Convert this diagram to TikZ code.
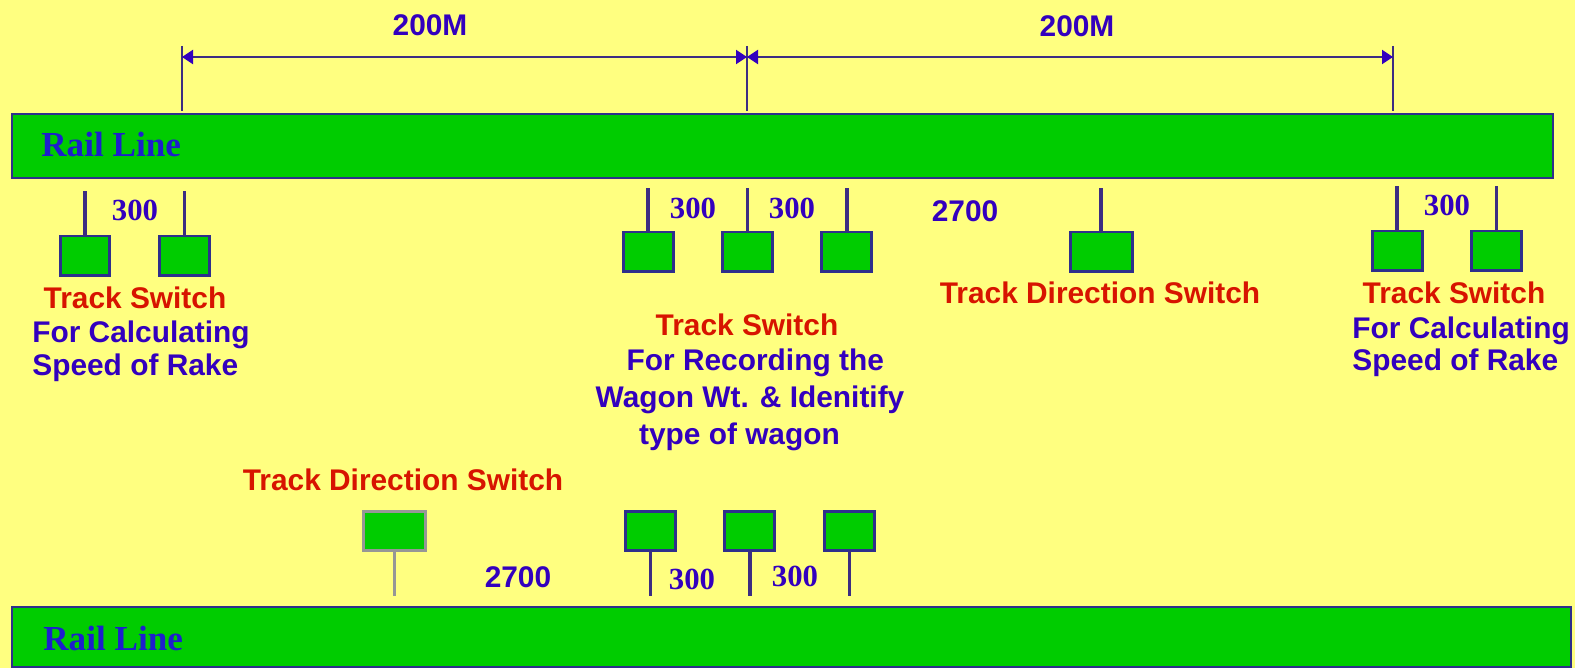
\documentclass[tikz,border=0pt]{standalone}
\usepackage{fontspec}
\setmainfont{Liberation Sans}
\newfontfamily\railfont{Liberation Serif}
\usetikzlibrary{arrows.meta, positioning}
\definecolor{bgyellow}{RGB}{255,255,128}
\definecolor{railgreen}{RGB}{0,204,0}
\definecolor{edgeblue}{RGB}{46,46,140}
\definecolor{stemblue}{RGB}{60,45,130}
\definecolor{txtblue}{RGB}{51,0,190}
\definecolor{txtred}{RGB}{215,20,0}
\definecolor{railblue}{RGB}{30,30,205}
\definecolor{offgray}{RGB}{150,150,150}
\tikzset{
  rail/.style={rectangle, draw=edgeblue, fill=railgreen, line width=0.05cm, outer sep=0pt, inner sep=0pt},
  sw/.style={rectangle, draw=edgeblue, fill=railgreen, line width=0.06cm, outer sep=0pt, inner sep=0pt,
             minimum width=1.0cm, minimum height=0.8cm},
  dirsw/.style={sw, minimum width=1.24cm},
  stem/.style={draw=stemblue, line width=0.07cm},
  tick/.style={draw=stemblue, line width=0.04cm},
  dim/.style={draw=stemblue, line width=0.04cm, {Triangle[length=0.22cm,width=0.28cm,color=txtblue]}-{Triangle[length=0.22cm,width=0.28cm,color=txtblue]}},
  lbl/.style={inner sep=0pt, text=txtblue, font=\fontsize{17}{19}\selectfont\bfseries},
  title/.style={inner sep=0pt, text=txtred, font=\fontsize{17}{19}\selectfont\bfseries},
  gap/.style={inner sep=0pt, text=txtblue, font=\railfont\fontsize{17.5}{19}\selectfont\bfseries},
  railname/.style={inner sep=0pt, anchor=west, text=railblue, font=\railfont\fontsize{20}{22}\selectfont\bfseries},
}
\begin{document}
\begin{tikzpicture}[x=0.02cm, y=-0.02cm, node distance=0.99cm]
  \fill[bgyellow] (0,0) rectangle (1575,668);
  \useasboundingbox (0,0) rectangle (1575,668);

  % rails
  \node[rail, minimum width=30.82cm, minimum height=1.28cm] (rail1) at (782.5,146) {};
  \node[rail, minimum width=31.18cm, minimum height=1.2cm] (rail2) at (791.5,637) {};
  \node[railname] (name1) at (41,144) {Rail Line};
  \node[railname] (name2) at (43,638) {Rail Line};

  % distance marks
  \coordinate (da) at (182,57);
  \coordinate (db) at (747,57);
  \coordinate (dc) at (1393,57);
  \coordinate (ta) at (182,46);
  \coordinate (tb) at (747,46);
  \coordinate (tc) at (1393,46);
  \coordinate (ba) at (182,111);
  \coordinate (bb) at (747,111);
  \coordinate (bc) at (1393,111);
  \draw[tick] (ta) -- (ba);
  \draw[tick] (tb) -- (bb);
  \draw[tick] (tc) -- (bc);
  \draw[dim] (da) -- (db);
  \draw[dim] (db) -- (dc);
  \node[lbl] (d1) at (430,25) {200M};
  \node[lbl] (d2) at (1077,26) {200M};

  % upper switches
  \node[sw] (a1) at (85,256) {};
  \node[sw, right=of a1] (a2) {};
  \node[sw] (b1) at (648,252) {};
  \node[sw, right=of b1] (b2) {};
  \node[sw, right=of b2] (b3) {};
  \node[dirsw] (c1) at (1101,252) {};
  \node[sw] (e1) at (1397,251) {};
  \node[sw, right=of e1] (e2) {};

  \coordinate[above=0.9cm of a1] (a1t);
  \coordinate[above=0.9cm of a2] (a2t);
  \coordinate[above=0.88cm of b1] (b1t);
  \coordinate[above=0.88cm of b2] (b2t);
  \coordinate[above=0.88cm of b3] (b3t);
  \coordinate[above=0.88cm of c1] (c1t);
  \coordinate[above=0.9cm of e1] (e1t);
  \coordinate[above=0.9cm of e2] (e2t);
  \draw[stem] (a1t) -- (a1);
  \draw[stem] (a2t) -- (a2);
  \draw[stem] (b1t) -- (b1);
  \draw[stem] (b2t) -- (b2);
  \draw[stem] (b3t) -- (b3);
  \draw[stem] (c1t) -- (c1);
  \draw[stem] (e1t) -- (e1);
  \draw[stem] (e2t) -- (e2);

  \node[gap] (g1) at (135,210) {300};
  \node[gap] (g2) at (693,208) {300};
  \node[gap] (g3) at (792,208) {300};
  \node[gap] (g4) at (1447,205) {300};
  \node[lbl] (g5) at (965,211) {2700};

  % upper texts
  \node[title] (t1) at (135,298) {Track Switch};
  \node[lbl, anchor=north west, align=left, font=\fontsize{17}{18.7}\selectfont\bfseries] (n1) at (32,321) {For Calculating\\Speed of Rake};
  \node[title] (t2) at (747,325) {Track Switch};
  \node[lbl, anchor=north, align=center, font=\fontsize{17}{21}\selectfont\bfseries] (n2) at (750,348.5) {\hspace*{6pt}For Recording the\\Wagon Wt. \& Idenitify\\\hspace*{-12pt}type of wagon};
  \node[title] (t3) at (1100,293) {Track Direction Switch};
  \node[title] (t4) at (1454,293) {Track Switch};
  \node[lbl, anchor=north west, align=left, font=\fontsize{17}{18.2}\selectfont\bfseries] (n4) at (1352,317) {For Calculating\\Speed of Rake};

  % lower switches
  \node[title] (t5) at (403,480) {Track Direction Switch};
  \node[dirsw, draw=offgray] (f1) at (394.5,531) {};
  \node[sw] (h1) at (650.5,531) {};
  \node[sw, right=of h1] (h2) {};
  \node[sw, right=of h2] (h3) {};

  \coordinate[below=0.9cm of f1] (f1b);
  \coordinate[below=0.9cm of h1] (h1b);
  \coordinate[below=0.9cm of h2] (h2b);
  \coordinate[below=0.9cm of h3] (h3b);
  \draw[stem, draw=offgray] (f1) -- (f1b);
  \draw[stem] (h1) -- (h1b);
  \draw[stem] (h2) -- (h2b);
  \draw[stem] (h3) -- (h3b);

  \node[lbl] (g6) at (518,577) {2700};
  \node[gap] (g7) at (692,579) {300};
  \node[gap] (g8) at (795,576) {300};
\end{tikzpicture}
\end{document}
